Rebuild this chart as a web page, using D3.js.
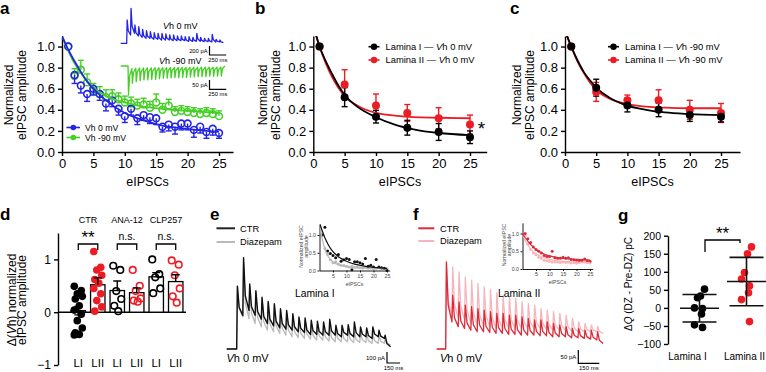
<!DOCTYPE html>
<html lang="en">
<head>
<meta charset="UTF-8">
<title>eIPSC depression figure</title>
<script src="https://cdn.jsdelivr.net/npm/d3@7"></script>
<style>
  body { margin: 0; background: #fff; }
  svg { display: block; }
</style>
</head>
<body>
<svg></svg>
<script>
const width = 766, height = 372

// ---------- data ----------
const stim = d3.range(1, 26)                       // eIPSC number
const fitX = [0, 1, 2, 3, 4, 5, 7, 10, 13, 16, 20, 25]

// a: normalized amplitude, Vh 0 mV vs Vh -90 mV
const aVh0 = [1.0, 0.73, 0.63, 0.55, 0.60, 0.55, 0.46, 0.49, 0.41, 0.34, 0.41, 0.32, 0.35, 0.33, 0.32, 0.24, 0.26, 0.24, 0.27, 0.27, 0.21, 0.24, 0.19, 0.22, 0.18]
const aVh0Err = [0, 0.08, 0.07, 0.07, 0.06, 0.06, 0.07, 0.06, 0.06, 0.06, 0.06, 0.06, 0.05, 0.06, 0.06, 0.05, 0.06, 0.07, 0.06, 0.06, 0.07, 0.06, 0.06, 0.06, 0.05]
const aVh90 = [1.0, 0.72, 0.78, 0.66, 0.58, 0.55, 0.52, 0.53, 0.50, 0.47, 0.46, 0.44, 0.45, 0.42, 0.47, 0.40, 0.44, 0.38, 0.39, 0.38, 0.37, 0.36, 0.37, 0.36, 0.34]
const aVh90Err = [0, 0.07, 0.09, 0.08, 0.07, 0.07, 0.07, 0.06, 0.06, 0.06, 0.06, 0.06, 0.06, 0.06, 0.08, 0.06, 0.06, 0.05, 0.05, 0.05, 0.05, 0.05, 0.05, 0.05, 0.05]
const aFitVh0 = [1.1, 0.97, 0.86, 0.76, 0.67, 0.60, 0.49, 0.37, 0.30, 0.25, 0.22, 0.19]
const aFitVh90 = [1.1, 0.96, 0.84, 0.75, 0.67, 0.61, 0.53, 0.47, 0.43, 0.41, 0.39, 0.37]

// a insets: example traces (pA), peak and residual current per stimulus
const aTrace0Peak = [518, 777, 407, 370, 311, 281, 259, 237, 222, 222, 207, 185, 185, 163, 163, 148, 148, 133, 222, 133, 111, 111, 200, 89, 74]
const aTrace0Tail = [185, 222, 163, 133, 111, 111, 89, 89, 74, 74, 74, 59, 59, 59, 59, 44, 44, 44, 44, 37, 37, 30, 30, 30, 15]
const aTrace90Peak = [156, 93, 84, 79, 75, 75, 72, 72, 68, 66, 66, 64, 63, 63, 61, 61, 59, 59, 57, 57, 57, 55, 55, 54, 54]
const aTrace90Tail = [14, 12, 11, 11, 10, 10, 9, 9, 9, 9, 8, 8, 8, 8, 8, 7, 7, 7, 7, 7, 7, 6, 6, 6, 0]

// b, c: lamina I vs lamina II
const bcStim = [1, 5, 10, 15, 20, 25]
const bLamI = [1.0, 0.52, 0.335, 0.23, 0.19, 0.14]
const bLamIErr = [0, 0.09, 0.06, 0.07, 0.08, 0.06]
const bLamII = [1.0, 0.64, 0.44, 0.37, 0.32, 0.26]
const bLamIIErr = [0, 0.14, 0.11, 0.08, 0.10, 0.09]
const bFitLamI = [1.2, 1.0, 0.86, 0.74, 0.63, 0.54, 0.43, 0.33, 0.26, 0.215, 0.18, 0.16]
const bFitLamII = [1.2, 1.0, 0.84, 0.71, 0.61, 0.53, 0.44, 0.37, 0.345, 0.33, 0.325, 0.32]
const cLamI = [1.0, 0.61, 0.44, 0.40, 0.35, 0.335]
const cLamIErr = [0, 0.08, 0.06, 0.065, 0.06, 0.05]
const cLamII = [1.0, 0.57, 0.49, 0.49, 0.40, 0.37]
const cLamIIErr = [0, 0.09, 0.05, 0.10, 0.09, 0.09]
const cFitLamI = [1.15, 1.0, 0.87, 0.76, 0.68, 0.61, 0.52, 0.44, 0.40, 0.375, 0.36, 0.35]
const cFitLamII = [1.15, 1.0, 0.86, 0.75, 0.66, 0.59, 0.51, 0.455, 0.43, 0.42, 0.415, 0.415]

// d: delta(Vh) normalized amplitude
const dGroups = ['CTR', 'ANA-12', 'CLP257']
const dBars = ['CTR LI', 'CTR LII', 'ANA LI', 'ANA LII', 'CLP LI', 'CLP LII']
const dBarLabels = ['LI', 'LII', 'LI', 'LII', 'LI', 'LII']
const dMean = [0.03, 0.52, 0.41, 0.37, 0.67, 0.58]
const dSem = [0.08, 0.13, 0.18, 0.09, 0.08, 0.13]
const dCtrLI = [0.49, 0.41, 0.35, 0.30, 0.25, 0.12, 0.04, -0.04, -0.16, -0.30, -0.39, -0.42, -0.43]
const dCtrLII = [1.15, 0.85, 0.80, 0.70, 0.62, 0.55, 0.45, 0.35, 0.22, 0.10, 0.02]
const dAnaLI = [0.88, 0.80, 0.40, 0.25, 0.12, 0.02]
const dAnaLII = [0.80, 0.50, 0.40, 0.26, 0.22, 0.20]
const dClpLI = [1.0, 0.72, 0.66, 0.45, 0.36]
const dClpLII = [0.98, 0.90, 0.70, 0.45, 0.30, 0.18]
const dSig = ['**', 'n.s.', 'n.s.']

// e: lamina I traces (pA) and inset
const eCtrPeak = [570, 831, 591, 531, 471, 432, 411, 366, 351, 321, 291, 282, 261, 252, 246, 270, 216, 216, 222, 246, 201, 192, 201, 171, 126]
const eCtrTail = [306, 351, 306, 270, 231, 210, 192, 180, 171, 156, 150, 132, 132, 126, 126, 126, 111, 126, 111, 111, 111, 96, 111, 96, 21]
const eDzPeak = [570, 786, 576, 516, 456, 420, 396, 351, 330, 306, 276, 261, 231, 216, 210, 201, 186, 171, 171, 156, 156, 141, 141, 126, 96]
const eDzTail = [291, 276, 231, 201, 171, 156, 141, 126, 111, 102, 96, 90, 81, 81, 72, 66, 66, 66, 60, 60, 60, 51, 51, 51, 36]
const eInsetCtr = [1.0, 1.22, 0.55, 0.48, 0.42, 0.36, 0.45, 0.26, 0.30, 0.34, 0.31, 0.02, 0.25, 0.25, 0.22, 0.18, 0.34, 0.12, 0.15, 0.10, 0.31, 0.10, 0.08, 0.06, 0.0]
const eInsetDz = [1.0, 0.62, 0.45, 0.30, 0.22, 0.25, 0.18, 0.15, 0.14, 0.12, 0.10, 0.12, 0.09, 0.10, 0.08, 0.07, 0.09, 0.06, 0.07, 0.05, 0.06, 0.08, 0.05, 0.04, 0.05]
const eFitCtr = [1.35, 1.12, 0.92, 0.76, 0.63, 0.53, 0.39, 0.26, 0.18, 0.13, 0.09, 0.06]
const eFitDz = [1.35, 0.90, 0.60, 0.42, 0.31, 0.24, 0.16, 0.11, 0.08, 0.07, 0.06, 0.05]

// f: lamina II traces (pA) and inset
const fCtrPeak = [327, 202, 177, 165, 159, 152, 146, 140, 134, 134, 127, 127, 121, 115, 109, 109, 102, 96, 90, 84, 77, 77, 71, 71, 65]
const fCtrTail = [102, 84, 77, 71, 65, 65, 62, 59, 59, 55, 55, 52, 52, 52, 50, 50, 46, 46, 46, 42, 42, 40, 37, 34, 21]
const fDzPeak = [321, 309, 290, 271, 259, 246, 234, 224, 212, 202, 196, 190, 177, 171, 165, 152, 146, 140, 134, 127, 115, 102, 96, 90, 84]
const fDzTail = [127, 115, 109, 96, 90, 84, 84, 77, 77, 77, 77, 77, 77, 77, 77, 75, 71, 71, 71, 67, 65, 65, 65, 65, 59]
const fInsetCtr = [1.0, 0.85, 0.75, 0.62, 0.55, 0.50, 0.45, 0.38, 0.35, 0.35, 0.50, 0.32, 0.30, 0.30, 0.33, 0.30, 0.32, 0.27, 0.26, 0.25, 0.24, 0.25, 0.28, 0.23, 0.22]
const fInsetDz = [0.95, 0.70, 0.55, 0.45, 0.40, 0.33, 0.30, 0.25, 0.23, 0.22, 0.20, 0.20, 0.20, 0.18, 0.20, 0.18, 0.19, 0.17, 0.18, 0.16, 0.18, 0.20, 0.20, 0.18, 0.17]
const fFitCtr = [0.99, 0.88, 0.78, 0.69, 0.62, 0.55, 0.46, 0.37, 0.32, 0.29, 0.27, 0.25]
const fFitDz = [0.95, 0.80, 0.67, 0.57, 0.49, 0.43, 0.35, 0.27, 0.23, 0.21, 0.19, 0.18]

// g: delta Q (pC)
const gCats = ['Lamina I', 'Lamina II']
const gLamI = [52, 33, 28, 0, -2, -17, -47, -54]
const gLamII = [169, 150, 98, 80, 61, 42, 23, -38]
const gMean = [-1, 73]
const gSD = [38, 67]

// ---------- drawing ----------
const blue = '#2424e6', green = '#45cf25', red = '#ec1c24', grey = '#b9b9b9',
      fRed = '#dd2a36', fPink = '#f4b6bc'

const svg = d3.select('svg')
    .attr('width', width).attr('height', height)
    .attr('viewBox', [0, 0, width, height])
    .attr('font-family', '"Liberation Sans", Arial, sans-serif')

function styleAxis(g, fs, sw = 1.4) {
  g.attr('font-family', null).attr('font-size', fs)
  g.select('.domain').attr('stroke-width', sw)
  g.selectAll('.tick line').attr('stroke-width', sw)
}

// text with an italic "V" inside, parts = [[str, italic], ...]
function richText(x, y, fs, parts, anchor = 'start', rotate = false) {
  const t = svg.append('text').attr('font-size', fs).attr('text-anchor', anchor)
  if (rotate) t.attr('transform', `translate(${x},${y}) rotate(-90)`)
  else t.attr('x', x).attr('y', y)
  parts.forEach(p => t.append('tspan').attr('font-style', p[1] ? 'italic' : null).text(p[0]))
  return t
}

function panelLabel(s, x, y) {
  svg.append('text').attr('x', x).attr('y', y).attr('font-size', 17)
      .attr('font-weight', 'bold').text(s)
}

let clipId = 0
function clipRect(x0, y0, x1, y1) {
  const id = 'clip' + (clipId++)
  svg.append('clipPath').attr('id', id).append('rect')
      .attr('x', x0).attr('y', y0).attr('width', x1 - x0).attr('height', y1 - y0)
  return `url(#${id})`
}

// normalized-amplitude panels (a, b, c)
function normPanel(left, at25, xEnd, t1, t2) {
  const x0 = d3.scaleLinear().domain([0, 25]).range([left, at25])
  const x = d3.scaleLinear().domain([0, x0.invert(xEnd)]).range([left, xEnd])
  const y = d3.scaleLinear().domain([0, 1.1]).range([152, 36])
  const gx = svg.append('g').attr('transform', `translate(0,${y(0)})`)
      .call(d3.axisBottom(x).tickValues([0, 5, 10, 15, 20, 25]).tickSize(4).tickSizeOuter(0))
  styleAxis(gx, 13)
  const gy = svg.append('g').attr('transform', `translate(${left},0)`)
      .call(d3.axisLeft(y).tickValues([0, 0.2, 0.4, 0.6, 0.8, 1.0])
          .tickFormat(d3.format('.1f')).tickSize(4).tickSizeOuter(0))
  styleAxis(gy, 13)
  svg.append('text').attr('x', (left + xEnd) / 2).attr('y', 186)
      .attr('text-anchor', 'middle').attr('font-size', 12.5).text('eIPSCs')
  richText(t1, 95, 12, [['Normalized', false]], 'middle', true)
  richText(t2, 95, 12, [['eIPSC amplitude', false]], 'middle', true)
  const clip = clipRect(left, 36, xEnd, 152)
  return {x, y, clip}
}

function fitLine(p, xs, ys, color, width = 1.8) {
  svg.append('path')
      .attr('clip-path', p.clip)
      .attr('fill', 'none').attr('stroke', color).attr('stroke-width', width)
      .attr('d', d3.line().curve(d3.curveMonotoneX)
          .x(d => p.x(d[0])).y(d => p.y(d[1]))(d3.zip(xs, ys)))
}

function errBars(p, xs, ys, es, color, dir, cap = 3) {
  const g = svg.append('g').attr('stroke', color).attr('stroke-width', 1.4)
  xs.forEach((xv, i) => {
    if (!es[i]) return
    const cx = p.x(xv)
    const hi = dir === 'down' ? ys[i] : ys[i] + es[i]
    const lo = dir === 'up' ? ys[i] : ys[i] - es[i]
    g.append('line').attr('x1', cx).attr('x2', cx).attr('y1', p.y(lo)).attr('y2', p.y(hi))
    if (dir !== 'down') g.append('line').attr('x1', cx - cap).attr('x2', cx + cap).attr('y1', p.y(hi)).attr('y2', p.y(hi))
    if (dir !== 'up') g.append('line').attr('x1', cx - cap).attr('x2', cx + cap).attr('y1', p.y(lo)).attr('y2', p.y(lo))
  })
}

function dots(p, xs, ys, color, open, r) {
  svg.append('g').selectAll('circle').data(d3.zip(xs, ys)).join('circle')
      .attr('cx', d => p.x(d[0])).attr('cy', d => p.y(d[1])).attr('r', r)
      .attr('fill', open ? 'none' : color)
      .attr('stroke', color).attr('stroke-width', open ? 1.6 : 0)
}

// synaptic current trace built from peak/tail amplitudes per stimulus
function trace(peaks, tails, o) {
  const pts = [[0, 0], [o.pre, 0]]
  peaks.forEach((pk, i) => {
    const t = o.pre + i * o.isi
    pts.push([t, i ? tails[i - 1] : 0])
    pts.push([t + o.isi * 0.12, pk])
    pts.push([t + o.isi * 0.4, tails[i] + (pk - tails[i]) * 0.28])
  })
  pts.push([o.pre + peaks.length * o.isi, tails[tails.length - 1]])
  const x = d3.scaleLinear().domain([0, 1]).range([o.x0, o.x0 + o.pxPerMs])
  const y = d3.scaleLinear().domain([0, 1]).range([o.y0, o.y0 + o.sign * o.pxPerPa])
  svg.append('path').attr('fill', 'none').attr('stroke', o.color)
      .attr('stroke-width', o.width || 1.2).attr('stroke-linejoin', 'round')
      .attr('d', d3.line().x(d => x(d[0])).y(d => y(d[1]))(pts))
}

function scaleBar(x, y, vLen, hLen, vText, hText, fs = 6) {
  svg.append('path').attr('fill', 'none').attr('stroke', '#000').attr('stroke-width', 1.2)
      .attr('d', `M${x},${y - vLen}V${y}H${x + hLen}`)
  svg.append('text').attr('x', x - 2).attr('y', y - vLen / 2 + 2).attr('text-anchor', 'end')
      .attr('font-size', fs).text(vText)
  svg.append('text').attr('x', x + hLen / 2).attr('y', y + fs + 1).attr('text-anchor', 'middle')
      .attr('font-size', fs).text(hText)
}

// ===== panel a =====
panelLabel('a', 0, 14)
const pa = normPanel(62, 219, 233, 13, 26)
errBars(pa, stim, aVh90, aVh90Err, green, 'up')
dots(pa, stim, aVh90, green, true, 3.4)
errBars(pa, stim, aVh0, aVh0Err, blue, 'down')
dots(pa, stim, aVh0, blue, true, 3.4)
fitLine(pa, fitX, aFitVh90, green)
fitLine(pa, fitX, aFitVh0, blue)
;[[blue, 'Vh 0 mV', 127.5], [green, 'Vh -90 mV', 137.5]].forEach(([c, t, y]) => {
  svg.append('line').attr('x1', 66.5).attr('x2', 80).attr('y1', y).attr('y2', y)
      .attr('stroke', c).attr('stroke-width', 1.6)
  svg.append('circle').attr('cx', 73.3).attr('cy', y).attr('r', 2.8).attr('fill', c)
  svg.append('text').attr('x', 85).attr('y', y + 3).attr('font-size', 8.7).text(t)
})
// inset traces
trace(aTrace0Peak, aTrace0Tail, {x0: 120.7, y0: 43.3, pre: 90, isi: 58, pxPerMs: 0.0667, pxPerPa: 0.045, sign: -1, color: blue, width: 1.3})
trace(aTrace90Peak, aTrace90Tail, {x0: 120.7, y0: 66, pre: 110, isi: 58, pxPerMs: 0.0667, pxPerPa: 0.186, sign: 1, color: green, width: 1.3})
richText(163, 29, 9, [['V', true], ['h 0 mV', false]])
richText(159, 64, 9, [['V', true], ['h -90 mV', false]])
scaleBar(209.5, 55, 9, 16.7, '200 pA', '250 ms', 5.8)
scaleBar(209.5, 89.3, 9.3, 16.7, '50 pA', '250 ms', 5.8)

// ===== panel b =====
panelLabel('b', 255, 14)
const pb = normPanel(313.3, 470, 486.7, 267, 280)
errBars(pb, bcStim, bLamII, bLamIIErr, red, 'both')
errBars(pb, bcStim, bLamI, bLamIErr, '#000', 'both')
fitLine(pb, fitX, bFitLamII, red)
fitLine(pb, fitX, bFitLamI, '#000')
dots(pb, bcStim, bLamII, red, false, 4)
dots(pb, bcStim, bLamI, '#000', false, 4)
svg.append('text').attr('x', 481.5).attr('y', 135).attr('text-anchor', 'middle')
    .attr('font-size', 19).text('*')

// ===== panel c =====
panelLabel('c', 510, 14)
const pc = normPanel(565, 721, 740, 521, 534)
errBars(pc, bcStim, cLamII, cLamIIErr, red, 'both')
errBars(pc, bcStim, cLamI, cLamIErr, '#000', 'both')
fitLine(pc, fitX, cFitLamII, red)
fitLine(pc, fitX, cFitLamI, '#000')
dots(pc, bcStim, cLamII, red, false, 4)
dots(pc, bcStim, cLamI, '#000', false, 4)

// legends b, c
;[[368.5, ' 0 mV'], [608, ' -90 mV']].forEach(([lx, v]) => {
  ;[['#000', 'Lamina I — ', 46.7], [red, 'Lamina II — ', 60]].forEach(([c, t, y]) => {
    svg.append('line').attr('x1', lx).attr('x2', lx + 11).attr('y1', y).attr('y2', y)
        .attr('stroke', c).attr('stroke-width', 1.6)
    svg.append('circle').attr('cx', lx + 5.5).attr('cy', y).attr('r', 3.2).attr('fill', c)
    richText(lx + 17, y + 3.3, 9.4, [[t, false], ['V', true], ['h' + v, false]])
  })
})

// ===== panel d =====
panelLabel('d', 0, 220)
const yD = d3.scaleLinear().domain([-1, 1.5]).range([365, 233])
const xD = d3.scaleBand().domain(dBars).range([66, 188]).padding(0.26)
const cx = k => xD(k) + xD.bandwidth() / 2
const gyD = svg.append('g').attr('transform', 'translate(58,0)')
    .call(d3.axisLeft(yD).tickValues([-1, 0, 1]).tickFormat(d3.format('d'))
        .tickSize(4).tickSizeOuter(0))
styleAxis(gyD, 12)
svg.append('line').attr('x1', 58).attr('x2', 186).attr('y1', yD(0)).attr('y2', yD(0))
    .attr('stroke', '#000').attr('stroke-width', 1.4)
richText(16, 300, 12, [['Δ(', false], ['V', true], ['h) normalized', false]], 'middle', true)
richText(26, 300, 12, [['eIPSC amplitude', false]], 'middle', true)
svg.append('g').selectAll('rect').data(dBars).join('rect')
    .attr('x', d => xD(d)).attr('width', xD.bandwidth())
    .attr('y', (d, i) => yD(Math.max(0, dMean[i])))
    .attr('height', (d, i) => Math.abs(yD(dMean[i]) - yD(0)))
    .attr('fill', '#fff').attr('stroke', '#000').attr('stroke-width', 1.3)
const jitterD = [-4, 3, -1, 4, -3, 1]
;[dCtrLI, dCtrLII, dAnaLI, dAnaLII, dClpLI, dClpLII].forEach((vals, i) => {
  const c = i % 2 ? red : '#000', open = i > 1
  svg.append('g').selectAll('circle').data(vals).join('circle')
      .attr('cx', (d, j) => cx(dBars[i]) + jitterD[j % 6])
      .attr('cy', d => yD(d)).attr('r', open ? 3.3 : 3.8)
      .attr('fill', open ? 'none' : c).attr('stroke', c).attr('stroke-width', open ? 1.6 : 0)
})
dBars.forEach((k, i) => {
  const x = cx(k), m = dMean[i], s = dSem[i]
  const lo = i === 0 ? m - s : m
  svg.append('path').attr('fill', 'none').attr('stroke', '#000').attr('stroke-width', 1.4)
      .attr('d', `M${x},${yD(lo)}V${yD(m + s)}M${x - 4},${yD(m + s)}H${x + 4}` +
          (i === 0 ? `M${x - 4},${yD(lo)}H${x + 4}` : ''))
  svg.append('text').attr('x', x).attr('y', 367).attr('text-anchor', 'middle')
      .attr('font-size', 11.5).text(dBarLabels[i])
})
dGroups.forEach((gName, i) => {
  const x1 = cx(dBars[2 * i]), x2 = cx(dBars[2 * i + 1]), xm = (x1 + x2) / 2
  svg.append('text').attr('x', xm).attr('y', 223).attr('text-anchor', 'middle')
      .attr('font-size', 9).text(gName)
  svg.append('path').attr('fill', 'none').attr('stroke', '#000').attr('stroke-width', 1.3)
      .attr('d', `M${x1},250V244H${x2}V250`)
  const star = dSig[i] === '**'
  svg.append('text').attr('x', xm).attr('y', star ? 243 : 240).attr('text-anchor', 'middle')
      .attr('font-size', star ? 17 : 10.5).text(dSig[i])
})

// ===== panel e =====
panelLabel('e', 210, 220)
trace(eDzPeak, eDzTail, {x0: 226.7, y0: 349, pre: 115, isi: 71, pxPerMs: 0.0867, pxPerPa: 0.11, sign: -1, color: grey, width: 1.3})
trace(eCtrPeak, eCtrTail, {x0: 226.7, y0: 349, pre: 115, isi: 71, pxPerMs: 0.0867, pxPerPa: 0.11, sign: -1, color: '#111', width: 1.4})
richText(226.5, 362, 11, [['V', true], ['h 0 mV', false]])
scaleBar(387, 363, 11, 13, '100 pA', '150 ms')
;[['#222', 'CTR', 228.3], [grey, 'Diazepam', 242]].forEach(([c, t, y]) => {
  svg.append('line').attr('x1', 216.5).attr('x2', 235).attr('y1', y).attr('y2', y)
      .attr('stroke', c).attr('stroke-width', 2)
  svg.append('text').attr('x', 240).attr('y', y + 3.3).attr('font-size', 9.3).text(t)
})
svg.append('text').attr('x', 295).attr('y', 297).attr('font-size', 10.3).text('Lamina I')

// small inset plots in e and f
function inset(x0, y0, ctr, dz, fitC, fitD, cC, cD) {
  const x = d3.scaleLinear().domain([0, 26]).range([x0, x0 + 70.2])
  const y = d3.scaleLinear().domain([0, 1.3]).range([y0, y0 - 1.3 * 35.5])
  const gx = svg.append('g').attr('transform', `translate(0,${y0})`)
      .call(d3.axisBottom(x).tickValues([5, 10, 15, 20, 25]).tickSize(2).tickPadding(1.5).tickSizeOuter(0))
  styleAxis(gx, 5.2, 0.9)
  const gy = svg.append('g').attr('transform', `translate(${x0},0)`)
      .call(d3.axisLeft(y).tickValues([0, 0.5, 1.0]).tickFormat(d3.format('.1f'))
          .tickSize(2).tickPadding(1.5).tickSizeOuter(0))
  styleAxis(gy, 5.2, 0.9)
  gx.selectAll('text').attr('fill', '#444')
  gy.selectAll('text').attr('fill', '#444')
  svg.append('text').attr('x', x0 + 35).attr('y', y0 + 15).attr('text-anchor', 'middle')
      .attr('font-size', 5.2).attr('fill', '#444').text('eIPSCs')
  richText(x0 - 17, y0 - 24, 5.2, [['Normalized eIPSC', false]], 'middle', true).attr('fill', '#444')
  richText(x0 - 11.5, y0 - 24, 5.2, [['amplitude', false]], 'middle', true).attr('fill', '#444')
  const p = {x, y, clip: clipRect(x0, y0 - 1.3 * 35.5, x0 + 70.2, y0 + 1)}
  dots(p, stim, dz, cD, false, 1.5)
  dots(p, stim, ctr, cC, false, 1.5)
  fitLine(p, fitX, fitD, cD, 1.2)
  fitLine(p, fitX, fitC, cC, 1.2)
}
inset(319.5, 270.5, eInsetCtr, eInsetDz, eFitCtr, eFitDz, '#111', grey)

// ===== panel f =====
panelLabel('f', 413, 220)
trace(fDzPeak, fDzTail, {x0: 436.7, y0: 349, pre: 64, isi: 45, pxPerMs: 0.14, pxPerPa: 0.266, sign: -1, color: fPink, width: 1.3})
trace(fCtrPeak, fCtrTail, {x0: 436.7, y0: 349, pre: 64, isi: 45, pxPerMs: 0.14, pxPerPa: 0.266, sign: -1, color: fRed, width: 1.3})
richText(440, 362, 11, [['V', true], ['h 0 mV', false]])
scaleBar(578.3, 363.3, 13.3, 21, '50 pA', '150 ms')
;[[fRed, 'CTR', 228.3], [fPink, 'Diazepam', 241]].forEach(([c, t, y]) => {
  svg.append('line').attr('x1', 418.3).attr('x2', 434.3).attr('y1', y).attr('y2', y)
      .attr('stroke', c).attr('stroke-width', 2)
  svg.append('text').attr('x', 440).attr('y', y + 3.3).attr('font-size', 9.3).text(t)
})
svg.append('text').attr('x', 498).attr('y', 297).attr('font-size', 10.3).text('Lamina II')
inset(522.5, 269, fInsetCtr, fInsetDz, fFitCtr, fFitDz, fRed, fPink)

// ===== panel g =====
panelLabel('g', 618, 221)
const yG = d3.scaleLinear().domain([-100, 200]).range([344, 235.7])
const xG = d3.scalePoint().domain(gCats).range([699.5, 746.5])
const gyG = svg.append('g').attr('transform', 'translate(668,0)')
    .call(d3.axisLeft(yG).tickValues([-100, -50, 0, 50, 100, 150, 200]).tickSize(4).tickSizeOuter(0))
styleAxis(gyG, 10.5)
richText(632, 284, 10, [['Δ', false], ['Q', true], [' (DZ - Pre-DZ) pC', false]], 'middle', true)
gCats.forEach((c, i) => {
  svg.append('text').attr('x', xG(c) - 12 + i * 10).attr('y', 360).attr('text-anchor', 'middle')
      .attr('font-size', 10).text(c)
})
const jitterG = [5, 1, -2, -5, 3, 2, -5, 3]
;[[gLamI, '#000'], [gLamII, red]].forEach(([vals, c], i) => {
  svg.append('g').selectAll('circle').data(vals).join('circle')
      .attr('cx', (d, j) => xG(gCats[i]) + jitterG[j]).attr('cy', d => yG(d))
      .attr('r', 3.8).attr('fill', c)
  const x = xG(gCats[i]), m = gMean[i], s = gSD[i]
  svg.append('path').attr('fill', 'none').attr('stroke', '#111').attr('stroke-width', 1.6)
      .attr('d', `M${x},${yG(m - s)}V${yG(m + s)}` +
          `M${x - 17},${yG(m + s)}H${x + 17}M${x - 17},${yG(m - s)}H${x + 17}` +
          `M${x - 19.5},${yG(m)}H${x + 19.5}`)
})
svg.append('path').attr('fill', 'none').attr('stroke', '#000').attr('stroke-width', 1.3)
    .attr('d', 'M705,252V240H740V243')
svg.append('text').attr('x', 722.5).attr('y', 239).attr('text-anchor', 'middle')
    .attr('font-size', 17).text('**')
</script>
</body>
</html>
